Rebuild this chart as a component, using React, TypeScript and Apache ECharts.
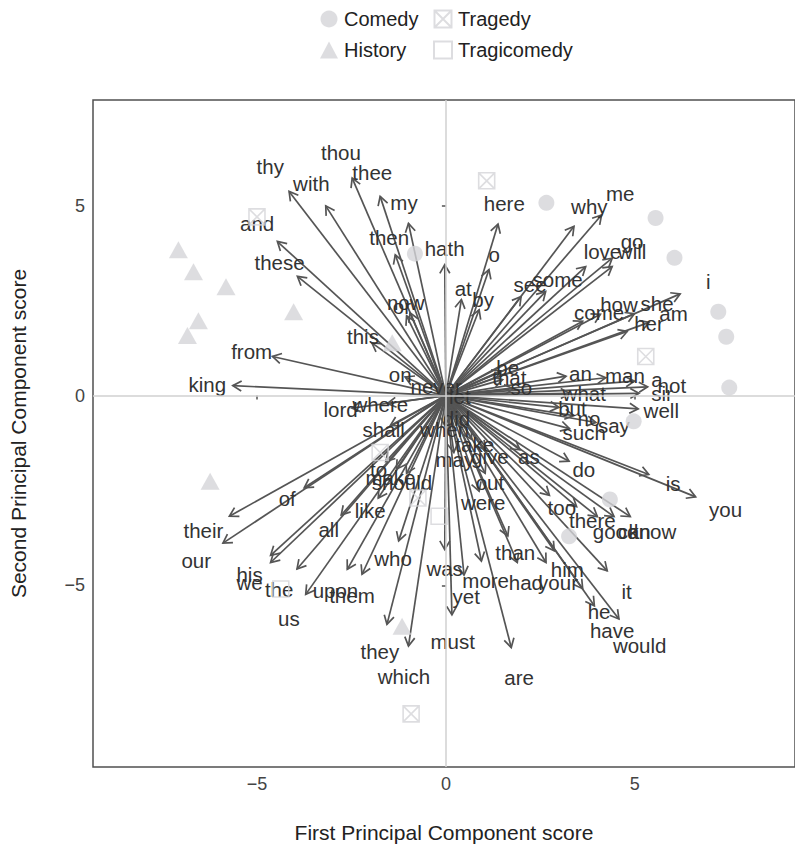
import React, { useEffect, useRef } from "react";
import * as echarts from "echarts";

// ---- Data ----
const WORDS = [
  "thy", "with", "thou", "thee", "my", "then", "and", "these", "from", "king", "this", "now", "or", "hath", "on", "never",
  "here", "o", "at", "by", "why", "me", "see", "some", "love", "go", "will", "i", "how", "she", "come", "am", "her",
  "be", "that", "so", "an", "man", "a", "not", "what", "sir",
  "well", "but", "no", "say", "such", "take", "give", "may", "as", "do", "is", "you", "out", "were", "too", "there",
  "good", "can", "know", "than", "had", "your", "him", "it", "he", "have", "would", "more", "yet", "must", "are", "was",
  "lord", "where", "shall", "to", "make", "should", "of", "their", "our", "his", "we", "the", "all", "like", "us",
  "upon", "them", "who", "they", "which", "when", "did", "let",
];
const WORD_PC1 = [
  -4.15, -3.18, -2.48, -1.74, -0.99, -1.34, -4.46, -3.93, -4.59, -5.64, -1.96, -0.95, -1.04, -0.03, -1.08, -0.23,
  1.38, 1.14, 0.41, 0.88, 3.39, 4.12, 1.99, 2.64, 3.70, 4.40, 4.40, 6.20, 4.09, 4.99, 3.62, 5.38, 4.80,
  1.46, 1.50, 1.78, 3.18, 4.23, 4.99, 5.34, 3.27, 5.11,
  5.09, 2.99, 3.38, 3.97, 3.27, 0.68, 1.04, 0.21, 1.96, 3.26, 5.37, 6.61, 1.04, 0.88, 2.74, 3.46,
  4.01, 4.45, 4.88, 1.64, 1.89, 2.65, 2.87, 4.27, 3.62, 3.93, 4.58, 0.94, 0.48, 0.16, 1.73, -0.03,
  -2.49, -1.55, -1.47, -1.59, -1.31, -1.04, -3.75, -5.73, -5.90, -4.64, -4.64, -3.94, -2.77, -1.79, -3.71,
  -2.61, -2.22, -1.25, -1.56, -0.99, -0.03, 0.25, 0.33,
];
const WORD_PC2 = [
  5.38, 5.0, 5.73, 5.25, 4.54, 3.71, 4.06, 3.14, 1.03, 0.26, 1.39, 2.18, 2.1, 3.45, 0.49, 0.21,
  4.52, 3.32, 2.53, 2.26, 4.46, 4.76, 2.61, 2.74, 3.4, 3.62, 3.4, 2.68, 2.14, 2.16, 1.96, 1.93, 1.69,
  0.65, 0.42, 0.18, 0.51, 0.47, 0.38, 0.23, 0.06, 0.06,
  -0.35, -0.31, -0.53, -0.71, -0.87, -1.15, -1.43, -1.5, -1.43, -1.73, -2.08, -2.67, -2.05, -2.52, -2.63, -2.93,
  -3.19, -3.19, -3.19, -3.7, -4.4, -4.4, -4.09, -4.62, -5.09, -5.54, -5.89, -4.36, -4.73, -5.78, -6.64, -4.06,
  -0.33, -0.21, -0.79, -1.74, -1.94, -2.05, -2.43, -3.18, -3.89, -4.21, -4.4, -4.57, -3.15, -2.7, -5.24,
  -4.58, -4.71, -3.83, -6.03, -6.6, -0.79, -0.53, -0.02,
];

const COMEDY = [
  [2.66, 5.08], [5.55, 4.68], [6.05, 3.63], [7.21, 2.21], [7.42, 1.55], [7.5, 0.21],
  [-0.82, 3.74], [4.97, -0.68], [4.34, -2.74], [3.26, -3.71],
];
const HISTORY = [
  [-7.08, 3.84], [-6.68, 3.26], [-5.82, 2.87], [-6.55, 1.97], [-6.84, 1.58], [-4.03, 2.21],
  [-1.42, 1.39], [-6.24, -2.26], [-1.16, -6.08],
];
const TRAGEDY = [
  [-5.0, 4.71], [1.08, 5.66], [5.29, 1.03], [-0.92, -8.39], [-1.74, -1.5], [-0.74, -2.7],
];
const TRAGICOMEDY = [
  [-4.37, -5.1], [-0.18, -3.18],
];

const X_TICKS = [-5, 0, 5];
const Y_TICKS = [-5, 0, 5];

const LABEL_SCALE = 1.12;
const FONT = '"Liberation Sans", Arial, Helvetica, sans-serif';
const POINT_COLOR = "#d4d5d8";
const ARROW_COLOR = "#555555";

const fmt = (v: number) => (v < 0 ? "\u2212" + Math.abs(v) : String(v));

export default function App() {
  const ref = useRef<HTMLDivElement>(null);

  useEffect(() => {
    document.body.style.margin = "0";
    const chart = echarts.init(ref.current!, undefined, { renderer: "svg" });

    const wordData = WORDS.map((w, i) => [WORD_PC1[i], WORD_PC2[i]]);

    const legendCommon = {
      orient: "vertical",
      top: 4,
      itemWidth: 18,
      itemHeight: 17,
      itemGap: 11,
      textStyle: { fontSize: 20, color: "#222", fontFamily: FONT, padding: [0, 0, 0, 1] },
    };

    const option: any = {
      animation: false,
      grid: {
        left: 91,
        right: -2,
        top: 100,
        bottom: 80,
        show: true,
        borderColor: "#505050",
        borderWidth: 1.5,
        backgroundColor: "transparent",
      },
      legend: [
        { ...legendCommon, data: ["Comedy", "History"], left: 315 },
        { ...legendCommon, data: ["Tragedy", "Tragicomedy"], left: 428 },
      ],
      xAxis: {
        type: "value",
        min: -9.34,
        max: 9.24,
        name: "First Principal Component score",
        nameLocation: "middle",
        nameGap: 55,
        nameTextStyle: { fontSize: 21, color: "#222", fontFamily: FONT },
        axisLine: { show: false },
        axisTick: {
          show: true,
          customValues: X_TICKS,
          length: 4,
          lineStyle: { color: "#505050", width: 1.5 },
        },
        axisLabel: {
          customValues: X_TICKS,
          formatter: fmt,
          fontSize: 18,
          color: "#444",
          fontFamily: FONT,
          margin: 8,
        },
        splitLine: { show: false },
      },
      yAxis: {
        type: "value",
        min: -9.79,
        max: 7.79,
        name: "Second Principal Component score",
        nameLocation: "middle",
        nameGap: 64,
        nameRotate: 90,
        nameTextStyle: { fontSize: 21, color: "#222", fontFamily: FONT },
        axisLine: { show: false },
        axisTick: {
          show: true,
          customValues: Y_TICKS,
          length: 4,
          lineStyle: { color: "#505050", width: 1.5 },
        },
        axisLabel: {
          customValues: Y_TICKS,
          formatter: fmt,
          fontSize: 18,
          color: "#444",
          fontFamily: FONT,
          margin: 8,
        },
        splitLine: { show: false },
      },
      series: [
        {
          name: "zero",
          type: "scatter",
          data: [],
          silent: true,
          markLine: {
            silent: true,
            symbol: ["none", "none"],
            label: { show: false },
            lineStyle: { color: "#d0d0d0", width: 1.5, type: "solid" },
            data: [{ xAxis: 0 }, { yAxis: 0 }],
          },
        },
        {
          name: "Comedy",
          type: "scatter",
          symbol: "circle",
          symbolSize: 16,
          itemStyle: { color: POINT_COLOR },
          data: COMEDY,
        },
        {
          name: "History",
          type: "scatter",
          symbol: "triangle",
          symbolSize: [19, 17],
          itemStyle: { color: POINT_COLOR },
          data: HISTORY,
        },
        {
          name: "Tragedy",
          type: "scatter",
          symbol: "path://M0,0 L10,0 L10,10 L0,10 Z M0,0 L10,10 M10,0 L0,10",
          symbolSize: 16,
          itemStyle: { color: "rgba(255,255,255,0)", borderColor: POINT_COLOR, borderWidth: 1.6 },
          data: TRAGEDY,
        },
        {
          name: "Tragicomedy",
          type: "scatter",
          symbol: "rect",
          symbolSize: 16,
          itemStyle: { color: "rgba(255,255,255,0)", borderColor: POINT_COLOR, borderWidth: 1.6 },
          data: TRAGICOMEDY,
        },
        {
          name: "arrows",
          type: "custom",
          silent: true,
          data: wordData,
          renderItem: (params: any, api: any) => {
            const x = api.value(0);
            const y = api.value(1);
            const o = api.coord([0, 0]);
            const p = api.coord([x, y]);
            const ang = Math.atan2(p[1] - o[1], p[0] - o[0]);
            const len = 10;
            const spread = Math.PI / 6;
            const a = [p[0] - len * Math.cos(ang - spread), p[1] - len * Math.sin(ang - spread)];
            const b = [p[0] - len * Math.cos(ang + spread), p[1] - len * Math.sin(ang + spread)];
            return {
              type: "group",
              children: [
                {
                  type: "line",
                  shape: { x1: o[0], y1: o[1], x2: p[0], y2: p[1] },
                  style: { stroke: ARROW_COLOR, lineWidth: 1.7 },
                },
                {
                  type: "polyline",
                  shape: { points: [a, p, b] },
                  style: { stroke: ARROW_COLOR, lineWidth: 1.7, fill: null },
                },
              ],
            };
          },
        },
        {
          name: "labels",
          type: "custom",
          silent: true,
          data: wordData,
          renderItem: (params: any, api: any) => {
            const x = api.value(0);
            const y = api.value(1);
            const l = api.coord([x * LABEL_SCALE, y * LABEL_SCALE]);
            return {
              type: "text",
              x: l[0],
              y: l[1],
              style: {
                text: WORDS[params.dataIndex],
                fill: "#333",
                fontSize: 20.5,
                fontFamily: FONT,
                align: "center",
                verticalAlign: "middle",
              },
            };
          },
        },
      ],
    };

    chart.setOption(option);
    return () => chart.dispose();
  }, []);

  return (
    <div
      ref={ref}
      style={{ position: "fixed", left: 0, top: 0, width: 795, height: 848, background: "#fff" }}
    />
  );
}
